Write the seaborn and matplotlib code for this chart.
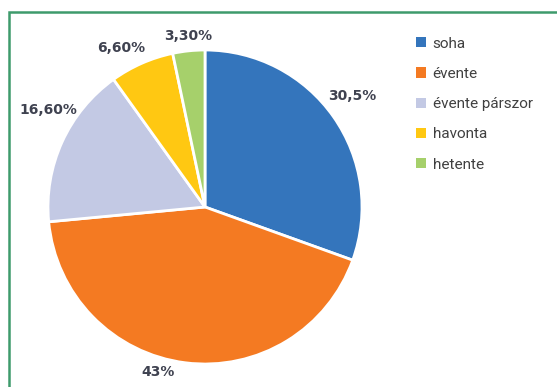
import matplotlib
matplotlib.use("Agg")
import matplotlib.pyplot as plt
import seaborn as sns
import numpy as np
from matplotlib.patches import Rectangle

categories = ["soha", "évente", "évente párszor", "havonta", "hetente"]
values = [30.5, 43.0, 16.6, 6.6, 3.3]
value_labels = ["30,5%", "43%", "16,60%", "6,60%", "3,30%"]
colors = ["#3475BC", "#F47A22", "#C3C9E4", "#FFC812", "#A6D06B"]

# label placement tweaks (radial distance, angle offset in degrees)
label_dist = [1.173, 1.093, 1.175, 1.146, 1.094]
label_dang = [2.0, -8.7, -7.2, 4.0, -0.2]

sns.set_theme(style="white")
plt.rcParams["font.family"] = ["DejaVu Sans"]

W, H = 557, 387
fig = plt.figure(figsize=(W / 100, H / 100), dpi=100)
fig.patch.set_facecolor("white")

cx, cy, r = 205, 207, 157
ax = fig.add_axes([(cx - r) / W, (H - cy - r) / H, 2 * r / W, 2 * r / H])
wedges, _ = ax.pie(values, colors=colors, startangle=90, counterclock=False,
                   radius=1.0,
                   wedgeprops=dict(edgecolor="white", linewidth=2.0))
ax.set_xlim(-1, 1)
ax.set_ylim(-1, 1)
ax.set_aspect("auto")
ax.axis("off")

for w, lab, d, da in zip(wedges, value_labels, label_dist, label_dang):
    ang = np.deg2rad((w.theta1 + w.theta2) / 2 + da)
    ax.text(d * np.cos(ang), d * np.sin(ang), lab, ha="center", va="center",
            fontsize=10, fontweight="bold", color="#3F4250", clip_on=False)

leg = fig.legend(wedges, categories, loc="upper left",
                 bbox_to_anchor=(402 / W, 1 - 23 / H),
                 frameon=False, handlelength=0.65, handleheight=0.65,
                 handletextpad=0.45, labelspacing=1.06,
                 prop={"family": "Roboto", "size": 11})
for t in leg.get_texts():
    t.set_color("#404040")
for h in leg.legend_handles:
    h.set_edgecolor("none")

border = Rectangle((8.5 / W, -0.05), 1.2, 1 - 11.5 / H + 0.05,
                   transform=fig.transFigure, fill=False,
                   edgecolor="#3E9B6C", linewidth=1.8)
fig.patches.append(border)

fig.savefig("out.png", dpi=100, facecolor="white")
